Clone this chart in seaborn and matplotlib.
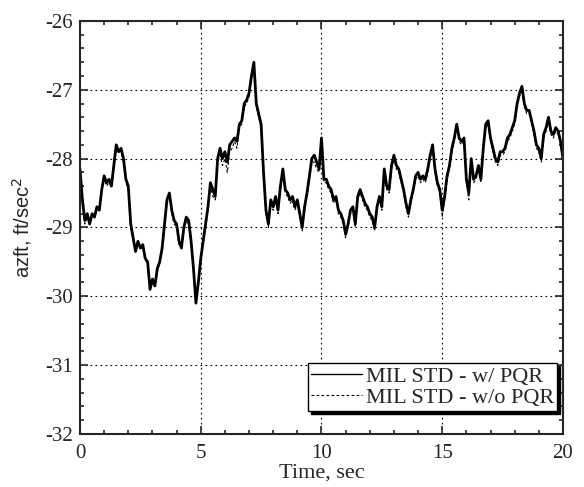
import numpy as np
import pandas as pd
import seaborn as sns
import matplotlib.pyplot as plt
from matplotlib.ticker import MultipleLocator

# sample times (0.1 s)
time_sec = np.round(np.arange(201) * 0.1, 1)

# MIL STD - w/ PQR (solid)
azft_pqr = [
    -28.15, -28.60, -28.90, -28.80, -28.95, -28.80, -28.85, -28.70, -28.75, -28.45,
    -28.25, -28.35, -28.30, -28.40, -28.10, -27.80, -27.90, -27.85, -28.00, -28.30,
    -28.40, -28.95, -29.15, -29.35, -29.20, -29.30, -29.25, -29.45, -29.50, -29.90,
    -29.75, -29.85, -29.60, -29.50, -29.30, -28.95, -28.60, -28.50, -28.75, -28.90,
    -28.95, -29.20, -29.30, -29.00, -28.85, -28.90, -29.20, -29.60, -30.10, -29.80,
    -29.45, -29.20, -28.95, -28.70, -28.35, -28.45, -28.55, -28.00, -27.85, -28.00,
    -27.90, -28.05, -27.80, -27.75, -27.70, -27.75, -27.50, -27.45, -27.20, -27.15,
    -27.05, -26.80, -26.60, -27.20, -27.35, -27.50, -28.20, -28.75, -28.95, -28.60,
    -28.70, -28.55, -28.75, -28.40, -28.15, -28.45, -28.50, -28.60, -28.55, -28.70,
    -28.60, -28.80, -29.00, -28.70, -28.50, -28.25, -28.00, -27.95, -28.05, -28.15,
    -27.70, -28.30, -28.30, -28.40, -28.45, -28.60, -28.55, -28.75, -28.80, -28.90,
    -29.10, -28.95, -28.75, -28.70, -28.95, -28.55, -28.45, -28.55, -28.65, -28.70,
    -28.80, -28.85, -29.00, -28.70, -28.55, -28.70, -28.15, -28.40, -28.45, -28.10,
    -27.95, -28.10, -28.15, -28.30, -28.45, -28.65, -28.80, -28.60, -28.45, -28.25,
    -28.20, -28.30, -28.25, -28.30, -28.15, -27.95, -27.80, -28.15, -28.35, -28.45,
    -28.75, -28.55, -28.25, -28.10, -27.85, -27.70, -27.50, -27.70, -27.75, -27.70,
    -28.30, -28.50, -28.00, -28.30, -28.25, -28.10, -28.30, -27.85, -27.50, -27.45,
    -27.70, -27.85, -28.00, -28.05, -27.90, -27.90, -27.85, -27.70, -27.65, -27.55,
    -27.45, -27.20, -27.05, -26.95, -27.20, -27.30, -27.30, -27.45, -27.60, -27.80,
    -27.85, -28.00, -27.65, -27.55, -27.40, -27.60, -27.65, -27.55, -27.60, -27.75,
    -28.00,
]

# MIL STD - w/o PQR (dashed)
azft_no_pqr = [
    -28.20, -28.65, -28.95, -28.85, -28.95, -28.85, -28.85, -28.75, -28.75, -28.50,
    -28.30, -28.40, -28.35, -28.40, -28.15, -27.85, -27.90, -27.90, -28.05, -28.35,
    -28.45, -29.00, -29.20, -29.35, -29.25, -29.30, -29.30, -29.45, -29.55, -29.90,
    -29.80, -29.85, -29.65, -29.50, -29.35, -29.00, -28.65, -28.55, -28.80, -28.95,
    -29.00, -29.25, -29.30, -29.05, -28.90, -28.95, -29.25, -29.65, -30.10, -29.85,
    -29.50, -29.25, -29.00, -28.75, -28.40, -28.55, -28.60, -28.05, -27.95, -28.10,
    -28.00, -28.20, -27.90, -27.85, -27.75, -27.85, -27.55, -27.50, -27.25, -27.20,
    -27.10, -26.85, -26.65, -27.25, -27.40, -27.55, -28.25, -28.80, -29.00, -28.65,
    -28.75, -28.60, -28.80, -28.45, -28.20, -28.50, -28.55, -28.65, -28.60, -28.75,
    -28.65, -28.85, -29.05, -28.75, -28.55, -28.30, -28.05, -28.05, -28.15, -28.20,
    -27.80, -28.35, -28.35, -28.45, -28.50, -28.65, -28.60, -28.80, -28.85, -28.95,
    -29.15, -29.00, -28.80, -28.75, -29.00, -28.60, -28.50, -28.60, -28.70, -28.75,
    -28.85, -28.90, -29.05, -28.75, -28.60, -28.75, -28.20, -28.45, -28.50, -28.15,
    -28.00, -28.15, -28.20, -28.35, -28.50, -28.70, -28.85, -28.65, -28.50, -28.30,
    -28.25, -28.35, -28.30, -28.35, -28.20, -28.00, -27.85, -28.20, -28.40, -28.50,
    -28.85, -28.60, -28.30, -28.15, -27.90, -27.75, -27.55, -27.75, -27.80, -27.75,
    -28.35, -28.60, -28.05, -28.35, -28.30, -28.15, -28.35, -27.90, -27.55, -27.50,
    -27.75, -27.90, -28.05, -28.10, -27.95, -27.95, -27.90, -27.75, -27.70, -27.60,
    -27.50, -27.25, -27.10, -27.00, -27.25, -27.35, -27.35, -27.50, -27.65, -27.85,
    -27.90, -28.05, -27.70, -27.60, -27.45, -27.65, -27.70, -27.60, -27.65, -27.80,
    -28.05,
]

df = pd.DataFrame({'time': time_sec, 'pqr': azft_pqr, 'no_pqr': azft_no_pqr})

sns.set_style('ticks')
plt.rcParams['font.family'] = ['Liberation Serif', 'DejaVu Serif']
plt.rcParams['axes.unicode_minus'] = False
plt.rcParams['xtick.direction'] = 'in'
plt.rcParams['ytick.direction'] = 'in'

fig = plt.figure(figsize=(5.84, 4.87), dpi=100)
ax = fig.add_axes([0.137, 0.109, 0.827, 0.848])

sns.lineplot(data=df, x='time', y='pqr', ax=ax, color='black', lw=2.0,
             label='MIL STD - w/ PQR')
sns.lineplot(data=df, x='time', y='no_pqr', ax=ax, color='black', lw=0.8,
             linestyle=(0, (2.5, 2)), label='MIL STD - w/o PQR')

ax.set_xlim(0, 20)
ax.set_ylim(-32, -26)
ax.xaxis.set_major_locator(MultipleLocator(5))
ax.xaxis.set_minor_locator(MultipleLocator(1))
ax.yaxis.set_major_locator(MultipleLocator(1))
ax.yaxis.set_minor_locator(MultipleLocator(0.2))
ax.tick_params(which='both', top=True, right=True, labelsize=15, width=1.2)
ax.tick_params(axis='x', which='major', pad=7)
ax.tick_params(axis='y', which='major', pad=5)
ax.tick_params(which='major', length=6)
ax.tick_params(which='minor', length=3)
for s in ax.spines.values():
    s.set_linewidth(1.5)

ax.grid(True, which='major', color='black', linestyle=(0, (1.5, 3)), lw=0.8)

ax.set_xlabel('Time, sec', fontsize=16, labelpad=1)
ax.set_ylabel('azft, ft/sec$^2$', fontsize=14.5, family='Liberation Sans', labelpad=8)

leg = ax.legend(loc='lower right', bbox_to_anchor=(0.988, 0.055), fontsize=16,
                frameon=True, fancybox=False, edgecolor='black', framealpha=1,
                shadow={'color': 'black', 'alpha': 1}, handlelength=2.3,
                borderpad=0.15, labelspacing=0.02, handletextpad=0.15,
                borderaxespad=0)
leg.get_frame().set_linewidth(1.0)
leg.get_lines()[0].set_linewidth(1.0)

plt.savefig('out.png', dpi=100)
